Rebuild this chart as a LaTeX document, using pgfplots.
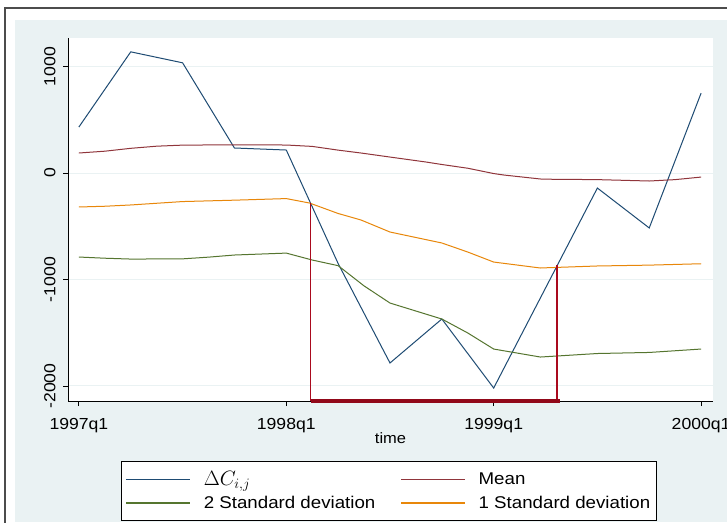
\documentclass[border=0pt]{standalone}
\usepackage{pgfplots}
\pgfplotsset{compat=1.18}
\usepackage{fontspec}
\setmainfont{Liberation Sans}[FakeStretch=1.1]
\definecolor{sNavy}{RGB}{30,75,115}
\definecolor{sMaroon}{RGB}{144,53,59}
\definecolor{sGreen}{RGB}{85,117,47}
\definecolor{sOrange}{RGB}{232,135,10}
\definecolor{sBg}{RGB}{234,242,243}
\definecolor{sRed}{RGB}{170,10,30}
\begin{document}
\begin{tikzpicture}
\useasboundingbox (0,0) rectangle (727pt,-522pt);
\fill[white] (0,0) rectangle (727pt,-522pt);
\fill[sBg] (15pt,-20pt) rectangle (727pt,-522pt);
\draw[black!70, line width=1.2pt] (5pt,-530pt) -- (5pt,-8pt) -- (740pt,-8pt);
\begin{axis}[
  scale only axis, width=645pt, height=363pt,
  at={(68pt,-401pt)}, anchor=south west,
  xmin=-0.21, xmax=12.23, ymin=-2141, ymax=1268,
  axis x line*=bottom, axis y line*=left,
  axis line style={black, line width=0.9pt, -},
  axis background/.style={fill=white},
  xtick={0,4,8,12}, xticklabels={1997q1,1998q1,1999q1,2000q1},
  ytick={-2000,-1000,0,1000}, yticklabels={-2000,-1000,0,1000},
  tick align=outside, major tick length=5pt,
  tick style={black, line width=0.9pt},
  ymajorgrids, grid style={sBg, line width=1pt},
  yticklabel style={rotate=90, anchor=south, font=\fontsize{16}{16}\selectfont},
  yticklabel shift=4pt,
  xticklabel style={font=\fontsize{16}{16}\selectfont},
  xticklabel shift=9pt,
  xlabel={time}, xlabel style={font=\fontsize{15}{15}\selectfont, yshift=7pt},
  clip=false,
  legend columns=2,
  legend style={at={(0.0822,-0.1653)}, anchor=north west, draw=black, line width=1pt,
    fill=white, font=\fontsize{17}{17}\selectfont, legend cell align=left,
    inner xsep=4pt, inner ysep=8pt, row sep=5pt,
    /tikz/every odd column/.append style={column sep=11pt},
    /tikz/every even column/.append style={column sep=23pt}},
]
\addplot[sNavy, line width=1pt,
  legend image code/.code={\draw[sNavy, line width=1.3pt] (0pt,0pt) -- (64pt,0pt);}] coordinates {
(0,432) (1,1138) (2,1035) (3,235) (4,216) (5,-850) (6,-1784) (7,-1371)
(8,-2019) (9,-1080) (10,-141) (11,-516) (12,750)};
\addlegendentry{\fontsize{20}{20}\selectfont$\Delta C_{i,j}$}
\addplot[sMaroon, line width=1pt,
  legend image code/.code={\draw[sMaroon, line width=1.3pt] (0pt,0pt) -- (64pt,0pt);}] coordinates {
(0,188) (0.5,205) (1,232) (1.5,252) (2,262) (3,265) (4,263) (4.5,250) (5,215)
(5.44,188) (6,150) (6.7,103) (7,80) (7.5,45) (8,-5) (8.2,-19) (8.9,-56)
(9,-58) (10,-62) (11,-75) (11.5,-62) (12,-38)};
\addlegendentry{Mean}
\addplot[sGreen, line width=1pt,
  legend image code/.code={\draw[sGreen, line width=1.3pt] (0pt,0pt) -- (64pt,0pt);}] coordinates {
(0,-789) (0.5,-800) (1,-808) (2,-806) (2.5,-790) (3,-770) (4,-752) (4.5,-817)
(5,-870) (5.5,-1060) (6,-1221) (7,-1371) (7.5,-1502) (8,-1653) (8.9,-1728)
(9,-1725) (10,-1695) (11,-1685) (12,-1653)};
\addlegendentry{2 Standard deviation}
\addplot[sOrange, line width=1pt,
  legend image code/.code={\draw[sOrange, line width=1.3pt] (0pt,0pt) -- (64pt,0pt);}] coordinates {
(0,-319) (0.5,-312) (1,-300) (2,-268) (3,-255) (4,-240) (4.45,-282) (5,-380)
(5.44,-441) (6,-554) (7,-657) (7.5,-742) (8,-836) (8.9,-892) (9,-890)
(10,-873) (11,-865) (12,-852)};
\addlegendentry{1 Standard deviation}
\addplot[sRed, line width=1.4pt, forget plot] coordinates {(4.47,-282) (4.47,-2141)};
\addplot[sRed, line width=1.4pt, forget plot] coordinates {(9.22,-866) (9.22,-2141)};
\addplot[sRed!85!black, line width=3.8pt, forget plot] coordinates {(4.47,-2141) (9.28,-2141)};
\end{axis}
\end{tikzpicture}
\end{document}
